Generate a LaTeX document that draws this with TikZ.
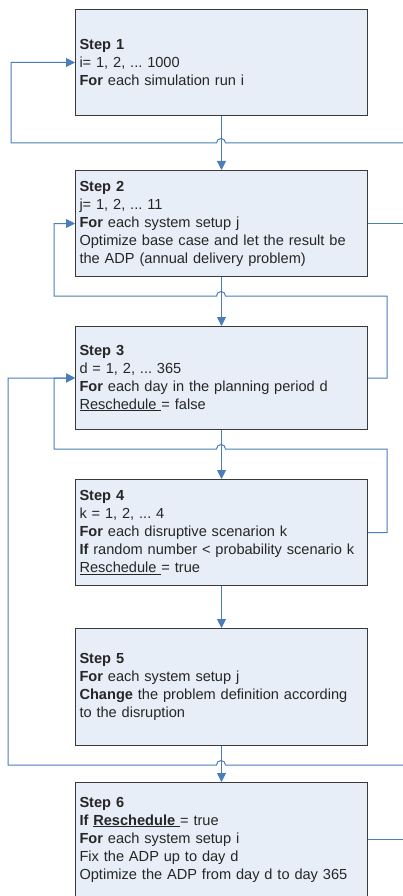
\documentclass[tikz,border=0pt]{standalone}
\usepackage{fontspec}
\setmainfont{Liberation Sans}
\usetikzlibrary{arrows.meta}
\definecolor{boxfill}{HTML}{E8EEF7}
\definecolor{boxline}{HTML}{3A3A3A}
\definecolor{conn}{HTML}{4A7EBB}
\definecolor{txt}{HTML}{262626}
\tikzset{
  stepbox/.style={draw=boxline, fill=boxfill, line width=1pt, anchor=north west,
    text width=284pt, inner xsep=4pt, align=left, text=txt,
    font=\fontsize{14.6}{18}\selectfont\frenchspacing},
  link/.style={draw=conn, line width=1pt},
  arr/.style={link, -{Triangle[length=9pt,width=9pt]}}
}
\begin{document}
\begin{tikzpicture}[x=1pt,y=-1pt]
\useasboundingbox[fill=white] (0,0) rectangle (403,896);
% boxes
\node[stepbox, minimum height=106pt] (s1) at (75,9)
  {\textbf{Step 1}\\ i= 1, 2, ... 1000\\ \textbf{For} each simulation run i};
\node[stepbox, minimum height=106pt] (s2) at (75,170)
  {\textbf{Step 2}\\ j= 1, 2, ... 11\\ \textbf{For} each system setup j\\ Optimize base case and let the result be\\ the ADP (annual delivery problem)};
\node[stepbox, minimum height=103pt] (s3) at (75,326)
  {\textbf{Step 3}\\ d = 1, 2, ... 365\\ \textbf{For} each day in the planning period d\\ \underline{Reschedule\ }= false};
\node[stepbox, minimum height=106pt] (s4) at (75,479)
  {\textbf{Step 4}\\ k = 1, 2, ... 4\\ \textbf{For} each disruptive scenarion k\\ \textbf{If} random number < probability scenario k\\ \underline{Reschedule\ }= true};
\node[stepbox, minimum height=117pt] (s5) at (75,628)
  {\textbf{Step 5}\\ \textbf{For} each system setup j\\ \textbf{Change} the problem definition according\\ to the disruption};
\node[stepbox, minimum height=114pt] (s6) at (75,782)
  {\textbf{Step 6}\\ \textbf{If} \underline{\textbf{Reschedule}\ }= true\\ \textbf{For} each system setup i\\ Fix the ADP up to day d\\ Optimize the ADP from day d to day 365};
% free-end coordinates
\coordinate (r1) at (403,143);
\coordinate (l1) at (11,143);
\coordinate (h1) at (221,143);
\coordinate (c2) at (387,296);
\coordinate (l2) at (54,296);
\coordinate (h2) at (221,296);
\coordinate (c3) at (387,449);
\coordinate (l3) at (54,449);
\coordinate (h3) at (221,449);
\coordinate (r5) at (403,765);
\coordinate (l5) at (8,765);
\coordinate (h5) at (221,765);
% straight flow
\draw[arr] (s1) -- (s2);
\draw[arr] (s2) -- (s3);
\draw[arr] (s3) -- (s4);
\draw[arr] (s4) -- (s5);
\draw[arr] (s5) -- (s6);
% loops
\draw[arr] (r1) -- ([xshift=4.5pt]h1) arc[start angle=0,end angle=180,radius=4.5pt] -- (l1) |- (s1.west);
\draw[link] (s2.east) -- (s2.east -| r1);
\draw[arr] (s3.east) -| (c2) -- ([xshift=4.5pt]h2) arc[start angle=0,end angle=180,radius=4.5pt] -- (l2) |- (s2.west);
\draw[arr] (s4.east) -| (c3) -- ([xshift=4.5pt]h3) arc[start angle=0,end angle=180,radius=4.5pt] -- (l3) |- (s3.west);
\draw[arr] (r5) -- ([xshift=4.5pt]h5) arc[start angle=0,end angle=180,radius=4.5pt] -- (l5) |- (s3.west);
\draw[link] (s6.east) -- (s6.east -| r5);
\end{tikzpicture}
\end{document}
